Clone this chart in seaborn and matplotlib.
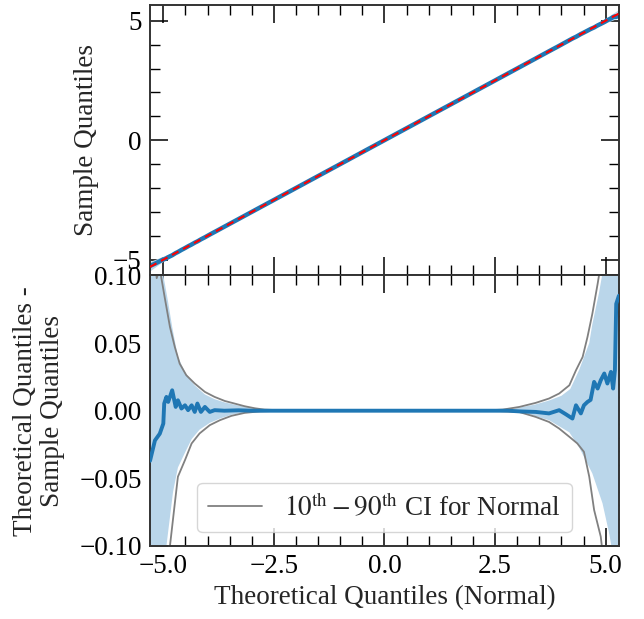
import numpy as np
import matplotlib
matplotlib.use("Agg")
import matplotlib.pyplot as plt
from matplotlib.ticker import MultipleLocator, FuncFormatter
import seaborn as sns

# ---- data ----
# theoretical quantile (x) vs. (theoretical - sample) difference
diff_x = [-5.30, -5.19, -5.08, -5.00, -4.98, -4.93, -4.89, -4.80, -4.72, -4.67,
          -4.59, -4.51, -4.44, -4.36, -4.29, -4.23, -4.15, -4.06, -3.95, -3.84,
          -3.62, -3.30, -3.00, 0.00, 2.80, 3.05, 3.42, 3.72, 3.95, 4.10,
          4.25, 4.33, 4.44, 4.51, 4.59, 4.66, 4.74, 4.82, 4.89, 4.97,
          5.04, 5.12, 5.17, 5.21, 5.24, 5.30]
diff_y = [-0.037, -0.022, -0.017, -0.0095, 0.0053, 0.0102, 0.0065, 0.0151, 0.0028, 0.0077,
          0.0016, 0.004, 0.0004, 0.004, -0.0009, 0.0053, -0.0009, 0.0028, -0.0009, 0.0004,
          0.0, 0.0003, 0.0, 0.0, 0.0, -0.0005, -0.0009, -0.002, 0.0004, -0.0026,
          -0.0058, 0.004, -0.002, 0.004, 0.0065, 0.008, 0.0213, 0.0164, 0.0225, 0.0275,
          0.0201, 0.0287, 0.0164, 0.0299, 0.079, 0.085]

# 10th-90th CI for Normal (gray lines)
ci_hi_x = [-5.30, -5.15, -5.08, -4.97, -4.85, -4.74, -4.63, -4.48, -4.29, -4.06,
           -3.84, -3.61, -3.39, -3.16, -2.93, -2.71, -2.40, 0.00, 2.40, 2.67,
           3.05, 3.42, 3.72, 3.95, 4.18, 4.33, 4.48, 4.59, 4.70, 4.82, 4.90, 5.30]
ci_hi_y = [0.16, 0.098, 0.105, 0.084, 0.0619, 0.0471, 0.0348, 0.0262, 0.0201, 0.0139,
           0.0102, 0.0072, 0.0053, 0.0033, 0.0018, 0.0008, 0.0004, 0.0, 0.0004, 0.0008,
           0.0028, 0.0058, 0.009, 0.0127, 0.0188, 0.0299, 0.0397, 0.0545, 0.0717, 0.0939, 0.11, 0.2]
ci_lo_x = [-5.30, -4.85, -4.74, -4.67, -4.51, -4.36, -4.18, -3.95, -3.72, -3.46,
           -3.16, -2.82, -2.50, 0.00, 2.60, 3.05, 3.42, 3.72, 3.95, 4.18,
           4.36, 4.51, 4.63, 4.74, 4.89, 4.95, 5.30]
ci_lo_y = [-0.25, -0.10, -0.0685, -0.0488, -0.0365, -0.0242, -0.0168, -0.0107, -0.007, -0.0038,
           -0.0016, -0.0005, -0.0002, 0.0, -0.0003, -0.001, -0.0046, -0.0083, -0.0132, -0.0193,
           -0.0242, -0.0304, -0.0488, -0.0734, -0.0931, -0.11, -0.25]

# shaded band
band_hi_x = [-5.30, -5.00, -4.90, -4.80, -4.67, -4.50, -4.30, -4.06, -3.84, -3.60,
             -3.30, -3.00, -2.70, 0.00, 2.70, 3.00, 3.40, 3.72, 4.00, 4.20,
             4.40, 4.63, 4.70, 4.85, 4.92, 5.30]
band_hi_y = [0.2, 0.1, 0.082, 0.062, 0.0397, 0.028, 0.019, 0.012, 0.0085, 0.006,
             0.0038, 0.0022, 0.0008, 0.0, 0.0008, 0.002, 0.0045, 0.0075, 0.011, 0.016,
             0.03, 0.05, 0.064, 0.087, 0.1, 0.2]
band_lo_x = [-5.30, -4.93, -4.78, -4.67, -4.51, -4.36, -4.18, -3.95, -3.72, -3.46,
             -3.16, -2.80, 0.00, 2.80, 3.20, 3.72, 4.18, 4.40, 4.70, 4.93,
             5.08, 5.13, 5.30]
band_lo_y = [-0.2, -0.1, -0.06, -0.042, -0.031, -0.021, -0.014, -0.009, -0.0058, -0.003,
             -0.0013, -0.0004, 0.0, -0.0004, -0.002, -0.007, -0.016, -0.027, -0.0464, -0.0685,
             -0.0906, -0.1, -0.14]

ref_x = [-5.30, 5.30]

# ---- style ----
FS = 19.5
sns.set_style("ticks")
plt.rcParams.update({
    "font.family": ["Liberation Serif", "DejaVu Serif"],
    "mathtext.fontset": "stix",
    "font.size": FS,
    "axes.edgecolor": "#333333",
    "axes.linewidth": 1.4,
    "axes.labelpad": 4,
    "xtick.direction": "in",
    "ytick.direction": "in",
    "xtick.top": True,
    "ytick.right": True,
    "xtick.major.size": 13,
    "ytick.major.size": 13,
    "xtick.minor.size": 7,
    "ytick.minor.size": 7,
    "xtick.major.width": 1.1,
    "ytick.major.width": 1.1,
    "xtick.minor.width": 1.0,
    "ytick.minor.width": 1.0,
    "xtick.color": "black",
    "ytick.color": "black",
    "xtick.major.pad": 6,
    "ytick.major.pad": 6,
    "xtick.labelsize": FS,
    "ytick.labelsize": FS,
    "axes.unicode_minus": True,
})

blue = "#1f77b4"
band_c = "#bad6ea"


def fmt(decimals):
    def f(v, pos):
        s = f"{v:.{decimals}f}"
        if s.startswith("-"):
            if float(s) == 0:
                s = s[1:]
            else:
                s = "\u2212" + s[1:]
        return s
    return FuncFormatter(f)


fig, (ax1, ax2) = plt.subplots(2, 1, figsize=(6.44, 6.19), dpi=100, sharex=True)
fig.subplots_adjust(left=0.233, right=0.961, top=0.992, bottom=0.118, hspace=0)

dx = np.array(diff_x); dy = np.array(diff_y)
bhx = np.array(band_hi_x); bhy = np.array(band_hi_y)
blx = np.array(band_lo_x); bly = np.array(band_lo_y)

# top panel: sample quantiles
ax1.fill(np.r_[bhx, blx[::-1]], np.r_[bhx - bhy, blx[::-1] - bly[::-1]],
         color=band_c, lw=0, zorder=1)
sns.lineplot(x=dx, y=dx - dy, ax=ax1, color=blue, lw=3.2, sort=False, estimator=None, zorder=2)
sns.lineplot(x=ref_x, y=ref_x, ax=ax1, color="red", lw=1.5, ls=(0, (3.5, 2.5)),
             sort=False, estimator=None, zorder=3)
ax1.set_ylim(-5.66, 5.66)
ax1.set_ylabel("Sample Quantiles", labelpad=10)
ax1.yaxis.set_major_locator(MultipleLocator(5))
ax1.yaxis.set_minor_locator(MultipleLocator(1))
ax1.yaxis.set_major_formatter(fmt(0))

# bottom panel: differences
ax2.fill(np.r_[bhx, blx[::-1]], np.r_[bhy, bly[::-1]], color=band_c, lw=0, zorder=1)
sns.lineplot(x=ci_hi_x, y=ci_hi_y, ax=ax2, color="gray", lw=1.3, sort=False, estimator=None,
             zorder=2, label=r"$10^{\rm th} - 90^{\rm th}$ CI for Normal")
sns.lineplot(x=ci_lo_x, y=ci_lo_y, ax=ax2, color="gray", lw=1.3, sort=False, estimator=None, zorder=2)
sns.lineplot(x=dx, y=dy, ax=ax2, color=blue, lw=2.8, sort=False, estimator=None, zorder=3)
ax2.set_ylim(-0.1, 0.1)
ax2.set_xlim(-5.3, 5.3)
ax2.yaxis.set_major_locator(MultipleLocator(0.05))
ax2.yaxis.set_minor_locator(MultipleLocator(0.01))
ax2.xaxis.set_major_locator(MultipleLocator(2.5))
ax2.xaxis.set_minor_locator(MultipleLocator(0.5))
ax2.set_xlabel("Theoretical Quantiles (Normal)")
ax2.set_ylabel("Theoretical Quantiles -\nSample Quantiles", linespacing=1.1, labelpad=10)
ax2.yaxis.set_major_formatter(fmt(2))
ax2.xaxis.set_major_formatter(fmt(1))
ax2.legend(loc="lower center", fontsize=FS, framealpha=0.8)

for ax in (ax1, ax2):
    ax.tick_params(which="both", top=True, right=True, direction="in")
ax1.tick_params(labelbottom=False)

fig.savefig("out.png", dpi=100)
